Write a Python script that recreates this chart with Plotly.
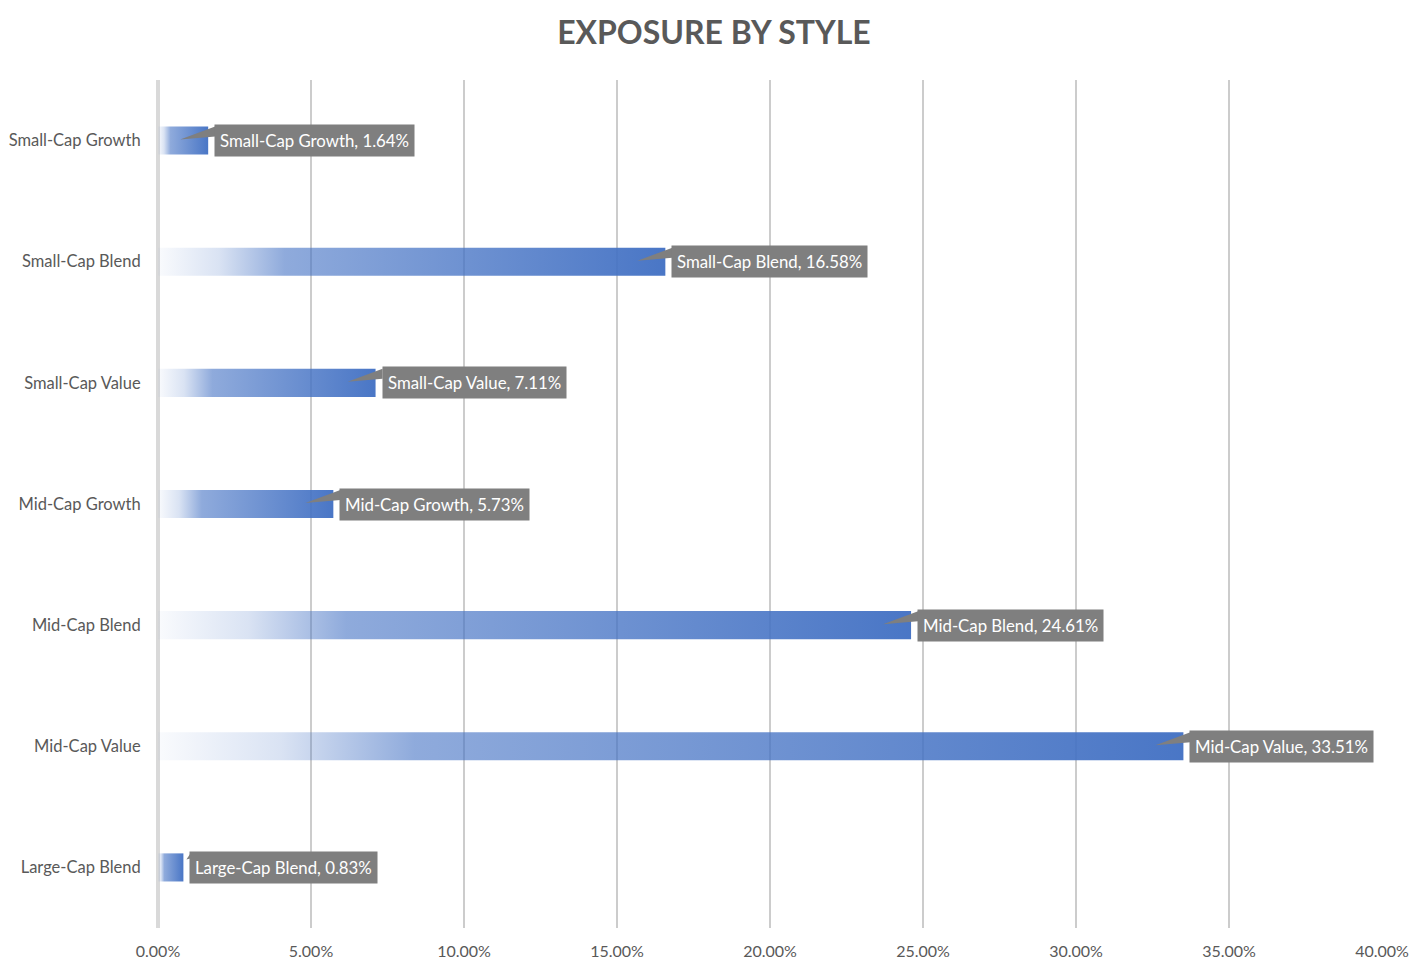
import plotly.graph_objects as go

categories = ["Small-Cap Growth", "Small-Cap Blend", "Small-Cap Value",
              "Mid-Cap Growth", "Mid-Cap Blend", "Mid-Cap Value", "Large-Cap Blend"]
values = [1.64, 16.58, 7.11, 5.73, 24.61, 33.51, 0.83]
x_tickvals = [0, 5, 10, 15, 20, 25, 30, 35, 40]
x_ticktext = ["0.00%", "5.00%", "10.00%", "15.00%", "20.00%", "25.00%", "30.00%", "35.00%", "40.00%"]

FONT = "Lato"
BLUE_SCALE = [[0, "rgba(68,114,196,0.03)"], [0.12, "rgba(68,114,196,0.2)"],
              [0.25, "rgba(68,114,196,0.6)"], [1, "rgba(68,114,196,0.97)"]]
HALF = 0.116

fig = go.Figure()
shapes = []
annotations = []
for i, (cat, v) in enumerate(zip(categories, values)):
    fig.add_trace(go.Scatter(
        x=[0, v, v, 0, 0], y=[i - HALF, i - HALF, i + HALF, i + HALF, i - HALF],
        mode="lines", line=dict(width=0), fill="toself",
        fillgradient=dict(type="horizontal", colorscale=BLUE_SCALE, start=0, stop=v),
        hoverinfo="skip", showlegend=False))
    wedge = "M 7,14 L 7,4 L -28,1 Z" if v >= 1.5 else "M 7,14 L 7,9 L 3,8 Z"
    shapes.append(dict(type="path", xref="x", yref="y", xsizemode="pixel", ysizemode="pixel",
                       xanchor=v, yanchor=i, path=wedge,
                       fillcolor="#7F7F7F", line=dict(width=0), layer="above"))
    annotations.append(dict(x=v, y=i, xref="x", yref="y", xanchor="left", yanchor="middle",
                            xshift=6, text=f"{cat}, {v:.2f}%", showarrow=False,
                            bgcolor="#7F7F7F", borderpad=5,
                            font=dict(family=FONT, size=16.8, color="white")))

fig.update_layout(
    width=1428, height=970,
    margin=dict(l=158, r=46, t=80, b=42, autoexpand=False),
    paper_bgcolor="white", plot_bgcolor="white",
    title=dict(text="<b>EXPOSURE BY STYLE</b>", x=0.5, xanchor="center", y=0.966, yanchor="middle",
               font=dict(family=FONT, size=32, color="#595959")),
    xaxis=dict(range=[0, 40], tickvals=x_tickvals, ticktext=x_ticktext, automargin=False,
               showgrid=True, gridcolor="#CCCCCC", gridwidth=1.5, zeroline=False,
               showline=False, ticks="outside", ticklen=9, tickcolor="rgba(0,0,0,0)",
               tickfont=dict(family=FONT, size=16, color="#595959"), fixedrange=True),
    yaxis=dict(range=[6.5, -0.5], tickvals=list(range(len(categories))), ticktext=categories,
               automargin=False, showgrid=False, zeroline=False, showline=False,
               ticks="outside", ticklen=13, tickcolor="rgba(0,0,0,0)",
               tickfont=dict(family=FONT, size=16.5, color="#595959"), fixedrange=True),
    shapes=[dict(type="line", xref="paper", yref="paper", x0=0, x1=0, y0=0, y1=1,
                 line=dict(color="#D9D9D9", width=4), layer="below")] + shapes,
    annotations=annotations,
    showlegend=False,
)

fig.write_html("out.html")
